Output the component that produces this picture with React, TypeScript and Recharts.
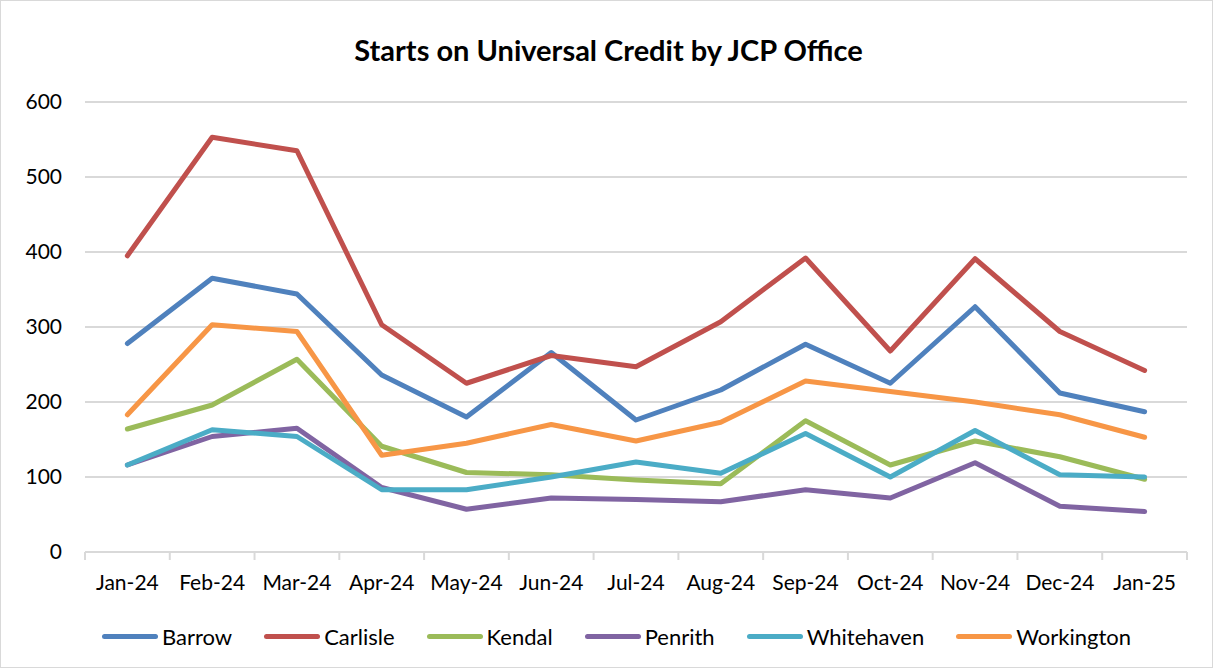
import { LineChart, Line, XAxis, YAxis, CartesianGrid } from "recharts";

const months = ["Jan-24", "Feb-24", "Mar-24", "Apr-24", "May-24", "Jun-24", "Jul-24", "Aug-24", "Sep-24", "Oct-24", "Nov-24", "Dec-24", "Jan-25"];
const barrow = [278, 365, 344, 236, 180, 266, 176, 216, 277, 225, 327, 212, 187];
const carlisle = [395, 553, 535, 303, 225, 262, 247, 307, 392, 268, 391, 294, 242];
const kendal = [164, 196, 257, 141, 106, 103, 96, 91, 175, 116, 148, 127, 97];
const penrith = [116, 154, 165, 86, 57, 72, 70, 67, 83, 72, 119, 61, 54];
const whitehaven = [116, 163, 154, 83, 83, 100, 120, 105, 158, 100, 162, 103, 100];
const workington = [183, 303, 294, 129, 145, 170, 148, 173, 228, 214, 200, 183, 153];
const yTicks = [0, 100, 200, 300, 400, 500, 600];

const series = [
  { key: "Barrow", color: "#4f81bd" },
  { key: "Carlisle", color: "#c0504d" },
  { key: "Kendal", color: "#9bbb59" },
  { key: "Penrith", color: "#8064a2" },
  { key: "Whitehaven", color: "#4bacc6" },
  { key: "Workington", color: "#f79646" },
];

const data = months.map((m, i) => ({
  month: m,
  Barrow: barrow[i],
  Carlisle: carlisle[i],
  Kendal: kendal[i],
  Penrith: penrith[i],
  Whitehaven: whitehaven[i],
  Workington: workington[i],
}));

const W = 1211;
const H = 666;
const margin = { top: 101, right: 25, left: 0, bottom: 55 };
const yAxisW = 84;
const band = (W - margin.left - margin.right - yAxisW) / months.length;
const font = "Lato, 'Open Sans', sans-serif";

function XTick(props: any) {
  const { x, y, payload, index } = props;
  const last = index === months.length - 1;
  return (
    <g>
      <line x1={x - band / 2} x2={x - band / 2} y1={y} y2={y + 8} stroke="#d9d9d9" strokeWidth={2} />
      {last && <line x1={x + band / 2} x2={x + band / 2} y1={y} y2={y + 8} stroke="#d9d9d9" strokeWidth={2} />}
      <text x={x} y={y + 38} textAnchor="middle" fontSize={21} fill="#000" fontFamily={font}>
        {payload.value}
      </text>
    </g>
  );
}

export default function App() {
  return (
    <div
      style={{
        position: "absolute",
        left: 0,
        top: 0,
        width: W,
        height: H,
        border: "1px solid #d9d9d9",
        background: "#fff",
        fontFamily: font,
      }}
    >
      <div
        style={{
          position: "absolute",
          top: 31,
          left: 2,
          width: W,
          textAlign: "center",
          fontSize: 29,
          fontWeight: 700,
          color: "#000",
        }}
      >
        Starts on Universal Credit by JCP Office
      </div>
      <LineChart width={W} height={H} data={data} margin={margin}>
        <CartesianGrid vertical={false} stroke="#d9d9d9" strokeWidth={2} />
        <XAxis
          dataKey="month"
          scale="band"
          stroke="#d9d9d9"
          strokeWidth={2}
          tickLine={false}
          tickSize={0}
          tickMargin={0}
          height={60}
          interval={0}
          tick={<XTick />}
        />
        <YAxis
          domain={[0, 600]}
          ticks={yTicks}
          width={yAxisW}
          axisLine={false}
          tickLine={false}
          tickSize={0}
          tickMargin={23}
          tick={{ fontSize: 21, fill: "#000", fontFamily: font }}
        />
        {series.map((s) => (
          <Line
            key={s.key}
            dataKey={s.key}
            stroke={s.color}
            strokeWidth={5}
            strokeLinecap="round"
            strokeLinejoin="round"
            dot={false}
            activeDot={false}
            isAnimationActive={false}
          />
        ))}
      </LineChart>
      <div
        style={{
          position: "absolute",
          top: 622,
          left: 10,
          width: W,
          display: "flex",
          justifyContent: "center",
          gap: 32,
          fontSize: 22,
          color: "#000",
        }}
      >
        {series.map((s) => (
          <div key={s.key} style={{ display: "flex", alignItems: "center" }}>
            <span
              style={{
                display: "inline-block",
                width: 56,
                height: 5,
                borderRadius: 3,
                background: s.color,
                marginRight: 4,
              }}
            />
            <span>{s.key}</span>
          </div>
        ))}
      </div>
    </div>
  );
}
